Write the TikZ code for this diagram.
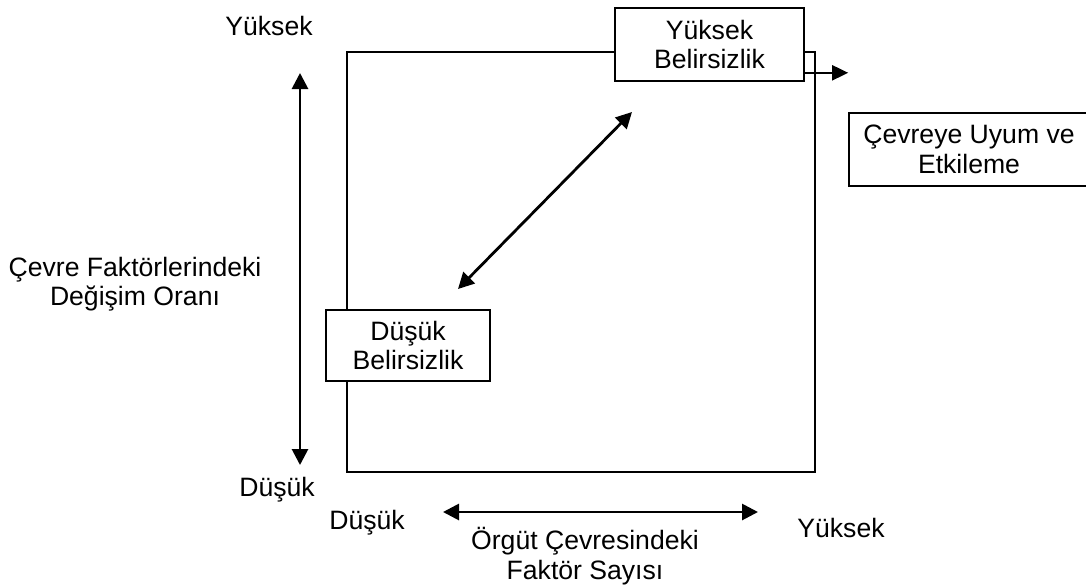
\documentclass[tikz,border=0pt]{standalone}
\usepackage{fontspec}
\setmainfont{Liberation Sans}
\usetikzlibrary{arrows.meta}

\begin{document}
\begin{tikzpicture}[x=1pt,y=-1pt,
	kutu/.style={draw,line width=1.6pt,fill=white,align=center,inner sep=0pt},
	ok/.style={line width=2.8pt,{Triangle[length=16pt,width=16pt]}-{Triangle[length=16pt,width=16pt]}},
	yazi/.style={align=center,inner sep=0pt},
	font=\fontsize{26.6}{29.5}\selectfont]
	\useasboundingbox (0,0) rectangle (1086,587);
	% büyük kare
	\draw[line width=1.6pt] (347,52) rectangle (815,472);
	% kutular
	\node[kutu,minimum width=189pt,minimum height=73pt] (yb) at (709.5,44.5) {Yüksek\\Belirsizlik};
	\node[kutu,minimum width=164pt,minimum height=71pt] (db) at (408,345.5) {Düşük\\Belirsizlik};
	\node[kutu,minimum width=240pt,minimum height=73pt] (cu) at (969,149.5) {Çevreye Uyum ve\\Etkileme};
	\draw[line width=2pt,-{Triangle[length=16pt,width=15pt]}] ([yshift=9pt]yb.south east) -- ([yshift=9pt]yb.south east -| cu.west);
	% yazılar
	\node[yazi] (ust) at (269,26) {Yüksek};
	\node[yazi] (altsol) at (277,490) {Düşük};
	\node[yazi] (altorta) at (367,523) {Düşük};
	\node[yazi] (sag) at (841,528) {Yüksek};
	\node[yazi] (dikey) at (135,284) {Çevre Faktörlerindeki\\Değişim Oranı};
	\node[yazi] (yatay) at (585,556) {Örgüt Çevresindeki\\Faktör Sayısı};
	% oklar
	\coordinate (d1) at (300,73);
	\coordinate (d2) at (300,465);
	\coordinate (c1) at (458,289);
	\coordinate (c2) at (632,112);
	\coordinate (y1) at (443,512);
	\coordinate (y2) at (758,512);
	\draw[ok] (d1) -- (d2);
	\draw[ok] (c1) -- (c2);
	\draw[ok] (y1) -- (y2);
\end{tikzpicture}
\end{document}
